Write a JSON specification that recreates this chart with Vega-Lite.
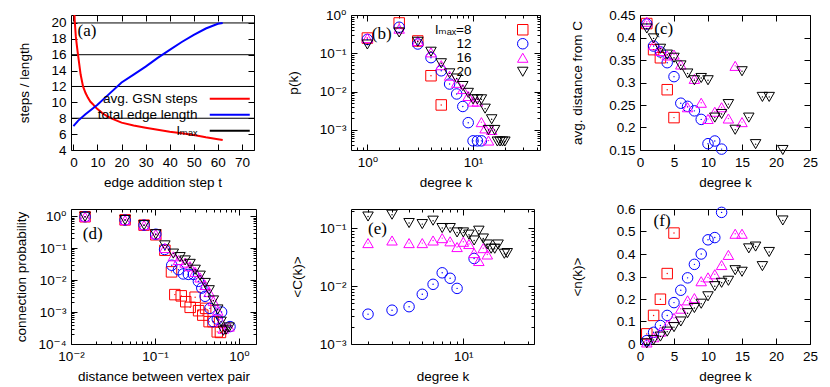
{
  "$schema": "https://vega.github.io/schema/vega-lite/v6.json",
  "background": "white",
  "padding": {"left": 13, "top": 7, "right": 0, "bottom": 0},
  "columns": 3,
  "spacing": {"row": 11, "column": 28},
  "resolve": {"scale": {"color": "independent", "shape": "independent", "fill": "independent", "stroke": "independent"}},
  "config": {
    "view": {"stroke": "black", "strokeWidth": 1},
    "font": "Liberation Sans",
    "axis": {"domain": false, "ticks": false, "grid": true, "gridColor": "black", "gridOpacity": 1, "gridWidth": 1, "tickCount": 100,
      "labelFont": "Liberation Sans, DejaVu Sans", "labelFontSize": 13.5, "labelColor": "black", "labelPadding": 5,
      "labelFlush": false, "labelOverlap": false, "labelBound": false,
      "titleFont": "Liberation Sans", "titleFontSize": 13.5, "titleFontWeight": "normal", "titleColor": "black", "titlePadding": 7},
    "legend": {"labelFont": "Liberation Sans, DejaVu Sans", "labelFontSize": 13.5, "labelColor": "black"},
    "text": {"font": "Liberation Serif", "fontSize": 17, "align": "left", "baseline": "alphabetic", "color": "black"}
  },
  "datasets": {
    "a_curves": [
      {"series":"avg. GSN steps","t":0,"v":26},{"series":"avg. GSN steps","t":0.5,"v":20.5},{"series":"avg. GSN steps","t":1,"v":18.3},{"series":"avg. GSN steps","t":1.5,"v":17},{"series":"avg. GSN steps","t":2,"v":15.8},{"series":"avg. GSN steps","t":3,"v":13.5},{"series":"avg. GSN steps","t":4,"v":12.0},{"series":"avg. GSN steps","t":5,"v":11.2},{"series":"avg. GSN steps","t":6,"v":10.6},{"series":"avg. GSN steps","t":7,"v":10.1},{"series":"avg. GSN steps","t":8,"v":9.8},{"series":"avg. GSN steps","t":9,"v":9.45},{"series":"avg. GSN steps","t":10,"v":9.15},{"series":"avg. GSN steps","t":12,"v":8.65},{"series":"avg. GSN steps","t":14,"v":8.25},{"series":"avg. GSN steps","t":16,"v":7.95},{"series":"avg. GSN steps","t":18,"v":7.7},{"series":"avg. GSN steps","t":20,"v":7.45},{"series":"avg. GSN steps","t":25,"v":7.08},{"series":"avg. GSN steps","t":30,"v":6.8},{"series":"avg. GSN steps","t":35,"v":6.55},{"series":"avg. GSN steps","t":40,"v":6.3},{"series":"avg. GSN steps","t":45,"v":6.1},{"series":"avg. GSN steps","t":50,"v":5.9},{"series":"avg. GSN steps","t":55,"v":5.6},{"series":"avg. GSN steps","t":60,"v":5.35},{"series":"avg. GSN steps","t":62,"v":5.25},
      {"series":"total edge length","t":0,"v":7.0},{"series":"total edge length","t":2,"v":7.7},{"series":"total edge length","t":5,"v":8.5},{"series":"total edge length","t":10,"v":9.7},{"series":"total edge length","t":15,"v":11.1},{"series":"total edge length","t":20,"v":12.5},{"series":"total edge length","t":25,"v":13.5},{"series":"total edge length","t":30,"v":14.5},{"series":"total edge length","t":35,"v":15.6},{"series":"total edge length","t":40,"v":16.6},{"series":"total edge length","t":45,"v":17.6},{"series":"total edge length","t":50,"v":18.5},{"series":"total edge length","t":55,"v":19.3},{"series":"total edge length","t":60,"v":19.9},{"series":"total edge length","t":62,"v":20.0}
    ],
    "a_lmax": [{"series":"lₘₐₓ","v":8},{"series":"lₘₐₓ","v":12},{"series":"lₘₐₓ","v":16},{"series":"lₘₐₓ","v":20}],
    "b": [
      {"l":"8","x":1,"y":0.25},{"l":"8","x":2,"y":0.62},{"l":"8","x":3,"y":0.21},{"l":"8","x":4,"y":0.026},{"l":"8","x":5,"y":0.0045},
      {"l":"12","x":1,"y":0.23},{"l":"12","x":2,"y":0.48},{"l":"12","x":3,"y":0.175},{"l":"12","x":4,"y":0.077},{"l":"12","x":5,"y":0.035},{"l":"12","x":6,"y":0.0158},{"l":"12","x":7,"y":0.0087},{"l":"12","x":8,"y":0.0041},{"l":"12","x":9,"y":0.00155},{"l":"12","x":10,"y":0.00052},{"l":"12","x":11,"y":0.00052},{"l":"12","x":12,"y":0.00052},
      {"l":"16","x":1,"y":0.25},{"l":"16","x":2,"y":0.44},{"l":"16","x":3,"y":0.21},{"l":"16","x":4,"y":0.106},{"l":"16","x":5,"y":0.049},{"l":"16","x":6,"y":0.026},{"l":"16","x":7,"y":0.017},{"l":"16","x":8,"y":0.0117},{"l":"16","x":9,"y":0.0077},{"l":"16","x":10,"y":0.0055},{"l":"16","x":11,"y":0.0055},{"l":"16","x":12,"y":0.0016},{"l":"16","x":13,"y":0.0011},{"l":"16","x":14,"y":0.00053},{"l":"16","x":15,"y":0.001},
      {"l":"20","x":1,"y":0.17},{"l":"20","x":2,"y":0.35},{"l":"20","x":3,"y":0.2},{"l":"20","x":4,"y":0.11},{"l":"20","x":5,"y":0.055},{"l":"20","x":6,"y":0.03},{"l":"20","x":7,"y":0.022},{"l":"20","x":8,"y":0.014},{"l":"20","x":9,"y":0.0093},{"l":"20","x":10,"y":0.0063},{"l":"20","x":11,"y":0.0063},{"l":"20","x":12,"y":0.0063},{"l":"20","x":13,"y":0.0036},{"l":"20","x":14,"y":0.001},{"l":"20","x":15,"y":0.0019},{"l":"20","x":16,"y":0.001},{"l":"20","x":17,"y":0.0005},{"l":"20","x":18,"y":0.0005},{"l":"20","x":19,"y":0.0005},{"l":"20","x":20,"y":0.0005}
    ],
    "c": [
      {"l":"8","x":1,"y":0.431},{"l":"8","x":2,"y":0.373},{"l":"8","x":3,"y":0.355},{"l":"8","x":4,"y":0.284},{"l":"8","x":5,"y":0.222},
      {"l":"12","x":1,"y":0.43},{"l":"12","x":2,"y":0.381},{"l":"12","x":3,"y":0.368},{"l":"12","x":4,"y":0.344},{"l":"12","x":5,"y":0.313},{"l":"12","x":6,"y":0.254},{"l":"12","x":7,"y":0.247},{"l":"12","x":8,"y":0.237},{"l":"12","x":9,"y":0.218},{"l":"12","x":10,"y":0.164},{"l":"12","x":11,"y":0.17},{"l":"12","x":12,"y":0.152},
      {"l":"16","x":1,"y":0.435},{"l":"16","x":2,"y":0.383},{"l":"16","x":3,"y":0.37},{"l":"16","x":4,"y":0.36},{"l":"16","x":5,"y":0.362},{"l":"16","x":6,"y":0.34},{"l":"16","x":7,"y":0.245},{"l":"16","x":8,"y":0.308},{"l":"16","x":9,"y":0.255},{"l":"16","x":10,"y":0.219},{"l":"16","x":11,"y":0.235},{"l":"16","x":12,"y":0.245},{"l":"16","x":13,"y":0.22},{"l":"16","x":14,"y":0.337},{"l":"16","x":15,"y":0.212},
      {"l":"20","x":1,"y":0.42},{"l":"20","x":2,"y":0.398},{"l":"20","x":3,"y":0.375},{"l":"20","x":4,"y":0.362},{"l":"20","x":5,"y":0.355},{"l":"20","x":6,"y":0.338},{"l":"20","x":7,"y":0.32},{"l":"20","x":8,"y":0.305},{"l":"20","x":9,"y":0.31},{"l":"20","x":10,"y":0.305},{"l":"20","x":11,"y":0.222},{"l":"20","x":12,"y":0.23},{"l":"20","x":13,"y":0.252},{"l":"20","x":14,"y":0.195},{"l":"20","x":15,"y":0.325},{"l":"20","x":16,"y":0.222},{"l":"20","x":17,"y":0.163},{"l":"20","x":18,"y":0.268},{"l":"20","x":19,"y":0.268},{"l":"20","x":21,"y":0.15}
    ],
    "d": [
      {"l":"8","x":0.0147,"y":0.95},{"l":"8","x":0.044,"y":0.76},{"l":"8","x":0.074,"y":0.52},{"l":"8","x":0.102,"y":0.26},{"l":"8","x":0.131,"y":0.085},{"l":"8","x":0.157,"y":0.018},{"l":"8","x":0.172,"y":0.0035},{"l":"8","x":0.205,"y":0.0032},{"l":"8","x":0.232,"y":0.0021},{"l":"8","x":0.262,"y":0.0014},{"l":"8","x":0.30,"y":0.0029},{"l":"8","x":0.33,"y":0.0011},{"l":"8","x":0.37,"y":0.0008},{"l":"8","x":0.40,"y":0.0013},{"l":"8","x":0.44,"y":0.0005},{"l":"8","x":0.49,"y":0.0005},{"l":"8","x":0.55,"y":0.00024},{"l":"8","x":0.6,"y":0.00023},
      {"l":"12","x":0.0147,"y":0.95},{"l":"12","x":0.044,"y":0.75},{"l":"12","x":0.074,"y":0.52},{"l":"12","x":0.102,"y":0.27},{"l":"12","x":0.13,"y":0.09},{"l":"12","x":0.158,"y":0.029},{"l":"12","x":0.19,"y":0.021},{"l":"12","x":0.217,"y":0.0155},{"l":"12","x":0.249,"y":0.015},{"l":"12","x":0.286,"y":0.015},{"l":"12","x":0.328,"y":0.0091},{"l":"12","x":0.36,"y":0.0056},{"l":"12","x":0.394,"y":0.0031},{"l":"12","x":0.45,"y":0.0013},{"l":"12","x":0.494,"y":0.0005},{"l":"12","x":0.55,"y":0.0006},{"l":"12","x":0.62,"y":0.001},{"l":"12","x":0.78,"y":0.00035},
      {"l":"16","x":0.0147,"y":0.95},{"l":"16","x":0.044,"y":0.75},{"l":"16","x":0.074,"y":0.52},{"l":"16","x":0.102,"y":0.27},{"l":"16","x":0.131,"y":0.1},{"l":"16","x":0.165,"y":0.055},{"l":"16","x":0.19,"y":0.042},{"l":"16","x":0.228,"y":0.035},{"l":"16","x":0.261,"y":0.027},{"l":"16","x":0.3,"y":0.018},{"l":"16","x":0.344,"y":0.012},{"l":"16","x":0.394,"y":0.007},{"l":"16","x":0.44,"y":0.0042},{"l":"16","x":0.494,"y":0.0022},{"l":"16","x":0.557,"y":0.0011},{"l":"16","x":0.61,"y":0.0005},{"l":"16","x":0.65,"y":0.0003},{"l":"16","x":0.76,"y":0.00035},
      {"l":"20","x":0.0147,"y":0.95},{"l":"20","x":0.044,"y":0.75},{"l":"20","x":0.074,"y":0.52},{"l":"20","x":0.102,"y":0.27},{"l":"20","x":0.131,"y":0.121},{"l":"20","x":0.165,"y":0.067},{"l":"20","x":0.198,"y":0.052},{"l":"20","x":0.228,"y":0.041},{"l":"20","x":0.261,"y":0.032},{"l":"20","x":0.30,"y":0.021},{"l":"20","x":0.344,"y":0.0137},{"l":"20","x":0.394,"y":0.0081},{"l":"20","x":0.44,"y":0.0048},{"l":"20","x":0.494,"y":0.0023},{"l":"20","x":0.557,"y":0.0012},{"l":"20","x":0.61,"y":0.0005},{"l":"20","x":0.65,"y":0.00026},{"l":"20","x":0.70,"y":0.00028},{"l":"20","x":0.76,"y":0.00033}
    ],
    "e": [
      {"l":"12","x":2,"y":0.00327},{"l":"12","x":3,"y":0.00383},{"l":"12","x":4,"y":0.0044},{"l":"12","x":5,"y":0.0072},{"l":"12","x":6,"y":0.0107},{"l":"12","x":7,"y":0.0169},{"l":"12","x":8,"y":0.0136},{"l":"12","x":9,"y":0.0091},{"l":"12","x":12,"y":0.0298},
      {"l":"16","x":2,"y":0.055},{"l":"16","x":3,"y":0.061},{"l":"16","x":4,"y":0.055},{"l":"16","x":5,"y":0.055},{"l":"16","x":6,"y":0.061},{"l":"16","x":7,"y":0.067},{"l":"16","x":8,"y":0.059},{"l":"16","x":9,"y":0.047},{"l":"16","x":10,"y":0.058},{"l":"16","x":11,"y":0.053},{"l":"16","x":12,"y":0.037},{"l":"16","x":13,"y":0.027},{"l":"16","x":14,"y":0.045},{"l":"16","x":15,"y":0.035},
      {"l":"20","x":2,"y":0.158},{"l":"20","x":3,"y":0.17},{"l":"20","x":4,"y":0.122},{"l":"20","x":5,"y":0.117},{"l":"20","x":6,"y":0.134},{"l":"20","x":7,"y":0.1},{"l":"20","x":8,"y":0.1},{"l":"20","x":9,"y":0.084},{"l":"20","x":10,"y":0.084},{"l":"20","x":11,"y":0.077},{"l":"20","x":12,"y":0.061},{"l":"20","x":13,"y":0.09},{"l":"20","x":14,"y":0.066},{"l":"20","x":15,"y":0.052},{"l":"20","x":16,"y":0.044},{"l":"20","x":17,"y":0.044},{"l":"20","x":18,"y":0.052},{"l":"20","x":20,"y":0.036},{"l":"20","x":21,"y":0.037}
    ],
    "f": [
      {"l":"8","x":1,"y":0.045},{"l":"8","x":2,"y":0.127},{"l":"8","x":3,"y":0.199},{"l":"8","x":4,"y":0.313},{"l":"8","x":5,"y":0.493},
      {"l":"12","x":1,"y":0.015},{"l":"12","x":2,"y":0.052},{"l":"12","x":3,"y":0.082},{"l":"12","x":4,"y":0.127},{"l":"12","x":5,"y":0.184},{"l":"12","x":6,"y":0.239},{"l":"12","x":7,"y":0.294},{"l":"12","x":8,"y":0.354},{"l":"12","x":9,"y":0.4},{"l":"12","x":10,"y":0.463},{"l":"12","x":11,"y":0.473},{"l":"12","x":12,"y":0.585},
      {"l":"16","x":1,"y":0.007},{"l":"16","x":2,"y":0.03},{"l":"16","x":3,"y":0.055},{"l":"16","x":4,"y":0.085},{"l":"16","x":5,"y":0.116},{"l":"16","x":6,"y":0.157},{"l":"16","x":7,"y":0.194},{"l":"16","x":8,"y":0.204},{"l":"16","x":9,"y":0.279},{"l":"16","x":10,"y":0.296},{"l":"16","x":11,"y":0.31},{"l":"16","x":12,"y":0.351},{"l":"16","x":13,"y":0.396},{"l":"16","x":14,"y":0.49},{"l":"16","x":15,"y":0.49},
      {"l":"20","x":1,"y":0.003},{"l":"20","x":2,"y":0.018},{"l":"20","x":3,"y":0.033},{"l":"20","x":4,"y":0.055},{"l":"20","x":5,"y":0.075},{"l":"20","x":6,"y":0.1},{"l":"20","x":7,"y":0.137},{"l":"20","x":8,"y":0.16},{"l":"20","x":9,"y":0.179},{"l":"20","x":10,"y":0.212},{"l":"20","x":11,"y":0.257},{"l":"20","x":12,"y":0.272},{"l":"20","x":13,"y":0.281},{"l":"20","x":14,"y":0.328},{"l":"20","x":15,"y":0.321},{"l":"20","x":16,"y":0.425},{"l":"20","x":17,"y":0.433},{"l":"20","x":18,"y":0.346},{"l":"20","x":19,"y":0.409},{"l":"20","x":21,"y":0.549}
    ]
  },
  "concat": [
    {
      "width": 183, "height": 135,
      "layer": [
        {"data": {"name": "a_lmax"}, "mark": {"type": "rule", "strokeWidth": 1},
         "encoding": {
           "y": {"field": "v", "type": "quantitative", "scale": {"domain": [4, 21], "nice": false, "zero": false}},
           "color": {"field": "series", "type": "nominal",
             "scale": {"domain": ["avg. GSN steps", "total edge length", "lₘₐₓ"], "range": ["#ff0000", "#0000ff", "#000000"]},
             "legend": {"orient": "none", "legendX": 152, "legendY": 77, "title": null, "symbolType": "M-4,0H4", "symbolSize": 100, "symbolStrokeWidth": 2, "labelAlign": "right", "labelOffset": -39, "rowPadding": 1, "padding": 0, "labelLimit": 0}}
         }},
        {"data": {"name": "a_curves"}, "mark": {"type": "line", "strokeWidth": 2, "clip": true},
         "encoding": {
           "x": {"field": "t", "type": "quantitative", "scale": {"domain": [-1, 75], "nice": false, "zero": false},
             "axis": {"title": "edge addition step t", "values": [0, 10, 20, 30, 40, 50, 60, 70], "tickCount": 100, "grid": true, "gridDash": [6, 123, 6, 1000], "labelExpr": "'' + datum.value", "labelOverlap": false}},
           "y": {"field": "v", "type": "quantitative",
             "axis": {"title": "steps / length", "values": [4, 6, 8, 10, 12, 14, 16, 18, 20], "tickCount": 100, "grid": true, "gridDash": [6, 171, 6, 1000], "labelExpr": "'' + datum.value", "labelOverlap": false, "titlePadding": 19}},
           "color": {"field": "series", "type": "nominal"}
         }},
        {"data": {"values": [{}]}, "mark": {"type": "text"},
         "encoding": {"x": {"datum": 1.7}, "y": {"datum": 18.3}, "text": {"value": "(a)"}}}
      ]
    },
    {
      "width": 189, "height": 135,
      "data": {"name": "b"},
      "resolve": {"axis": {"x": "independent", "y": "independent"}},
      "layer": [
        {"mark": {"type": "point", "filled": false, "size": 110, "strokeWidth": 1, "opacity": 1},
         "encoding": {
           "x": {"field": "x", "type": "quantitative", "scale": {"type": "log", "domain": [0.7, 43], "nice": false},
             "axis": {"orient": "bottom", "title": "degree k", "values": [1, 10], "tickCount": 100, "labelExpr": "['10⁻⁴','10⁻³','10⁻²','10⁻¹','10⁰','10¹'][round(log(datum.value)/LN10)+4]", "grid": true, "gridDash": [6, 123, 6, 1000], "labelOverlap": false}},
           "y": {"field": "y", "type": "quantitative", "scale": {"type": "log", "domain": [0.0003, 1], "nice": false},
             "axis": {"orient": "left", "title": "p(k)", "values": [0.001, 0.01, 0.1, 1], "tickCount": 100, "labelExpr": "['10⁻⁴','10⁻³','10⁻²','10⁻¹','10⁰','10¹'][round(log(datum.value)/LN10)+4]", "grid": true, "gridDash": [6, 177, 6, 1000], "labelOverlap": false, "titlePadding": 19}},
           "stroke": {"field": "l", "type": "nominal", "scale": {"domain": ["8", "12", "16", "20"], "range": ["#ff0000", "#0000ff", "#ff00ff", "#000000"]},
             "legend": {"orient": "none", "legendX": 165, "legendY": 8, "title": null, "labelAlign": "right", "labelOffset": -58, "labelExpr": "datum.label == '8' ? 'lₘₐₓ=8' : datum.label", "rowPadding": -2, "padding": 0, "symbolSize": 110, "symbolStrokeWidth": 1, "symbolFillColor": "transparent", "labelLimit": 0}},
           "shape": {"field": "l", "type": "nominal", "scale": {"domain": ["8", "12", "16", "20"], "range": ["square", "circle", "triangle-up", "triangle-down"]},
             "legend": {"orient": "none", "legendX": 165, "legendY": 8, "title": null, "labelAlign": "right", "labelOffset": -58, "labelExpr": "datum.label == '8' ? 'lₘₐₓ=8' : datum.label", "rowPadding": -2, "padding": 0, "symbolSize": 110, "symbolStrokeWidth": 1, "symbolFillColor": "transparent", "labelLimit": 0}}
         }},
        {"mark": {"type": "point", "filled": true, "size": 2, "opacity": 1},
         "encoding": {
           "x": {"field": "x", "type": "quantitative", "axis": null},
           "y": {"field": "y", "type": "quantitative", "axis": null},
           "fill": {"field": "l", "type": "nominal", "scale": {"range": ["#0000ff", "#ff00ff", "#000000", "#ff0000"]}, "legend": null}
         }},
        {"mark": {"type": "point", "opacity": 0},
         "encoding": {
           "x": {"field": "x", "type": "quantitative", "axis": {"orient": "top", "title": null, "labels": false, "tickCount": 100, "values": [0.8, 0.9, 2, 3, 4, 5, 6, 7, 8, 9, 20, 30, 40], "grid": true, "gridDash": [3, 129, 3, 1000]}},
           "y": {"field": "y", "type": "quantitative", "axis": {"orient": "right", "title": null, "labels": false, "tickCount": 100, "values": [0.0004, 0.0005, 0.0006, 0.0007, 0.0008, 0.0009, 0.002, 0.003, 0.004, 0.005, 0.006, 0.007, 0.008, 0.009, 0.02, 0.03, 0.04, 0.05, 0.06, 0.07, 0.08, 0.09, 0.2, 0.3, 0.4, 0.5, 0.6, 0.7, 0.8, 0.9], "grid": true, "gridDash": [3, 183, 3, 1000]}}
         }},
        {"data": {"values": [{}]}, "mark": {"type": "text"},
         "encoding": {"x": {"datum": 1.1, "axis": null}, "y": {"datum": 0.24, "axis": null}, "text": {"value": "(b)"}}}
      ]
    },
    {
      "width": 170, "height": 135,
      "data": {"name": "c"},
      "layer": [
        {"mark": {"type": "point", "filled": false, "size": 110, "strokeWidth": 1, "opacity": 1},
         "encoding": {
           "x": {"field": "x", "type": "quantitative", "scale": {"domain": [0, 25], "nice": false},
             "axis": {"title": "degree k", "values": [0, 5, 10, 15, 20, 25], "tickCount": 100, "grid": true, "gridDash": [6, 123, 6, 1000], "labelExpr": "'' + datum.value", "labelOverlap": false}},
           "y": {"field": "y", "type": "quantitative", "scale": {"domain": [0.15, 0.45], "nice": false, "zero": false},
             "axis": {"title": "avg. distance from C", "values": [0.15, 0.2, 0.25, 0.3, 0.35, 0.4, 0.45], "tickCount": 100, "grid": true, "gridDash": [6, 158, 6, 1000], "labelExpr": "'' + datum.value", "labelOverlap": false, "titlePadding": 24}},
           "color": {"field": "l", "type": "nominal", "scale": {"domain": ["8", "12", "16", "20"], "range": ["#ff0000", "#0000ff", "#ff00ff", "#000000"]}, "legend": null},
           "shape": {"field": "l", "type": "nominal", "scale": {"domain": ["8", "12", "16", "20"], "range": ["square", "circle", "triangle-up", "triangle-down"]}, "legend": null}
         }},
        {"mark": {"type": "point", "filled": true, "size": 2, "opacity": 1},
         "encoding": {
           "x": {"field": "x", "type": "quantitative"},
           "y": {"field": "y", "type": "quantitative"},
           "fill": {"field": "l", "type": "nominal", "scale": {"domain": ["8", "12", "16", "20"], "range": ["#ff0000", "#0000ff", "#ff00ff", "#000000"]}, "legend": null}
         }},
        {"data": {"values": [{}]}, "mark": {"type": "text"},
         "encoding": {"x": {"datum": 2.1}, "y": {"datum": 0.407}, "text": {"value": "(c)"}}}
      ]
    },
    {
      "width": 185, "height": 135,
      "data": {"name": "d"},
      "resolve": {"axis": {"x": "independent", "y": "independent"}},
      "layer": [
        {"mark": {"type": "point", "filled": false, "size": 110, "strokeWidth": 1, "opacity": 1},
         "encoding": {
           "x": {"field": "x", "type": "quantitative", "scale": {"type": "log", "domain": [0.01, 1.59], "nice": false},
             "axis": {"orient": "bottom", "title": "distance between vertex pair", "values": [0.01, 0.1, 1], "tickCount": 100, "labelExpr": "['10⁻⁴','10⁻³','10⁻²','10⁻¹','10⁰','10¹'][round(log(datum.value)/LN10)+4]", "grid": true, "gridDash": [6, 123, 6, 1000], "labelOverlap": false}},
           "y": {"field": "y", "type": "quantitative", "scale": {"type": "log", "domain": [0.0001, 1.66], "nice": false},
             "axis": {"orient": "left", "title": "connection probability", "values": [0.0001, 0.001, 0.01, 0.1, 1], "tickCount": 100, "labelExpr": "['10⁻⁴','10⁻³','10⁻²','10⁻¹','10⁰','10¹'][round(log(datum.value)/LN10)+4]", "grid": true, "gridDash": [6, 173, 6, 1000], "labelOverlap": false, "titlePadding": 10}},
           "color": {"field": "l", "type": "nominal", "scale": {"domain": ["8", "12", "16", "20"], "range": ["#ff0000", "#0000ff", "#ff00ff", "#000000"]}, "legend": null},
           "shape": {"field": "l", "type": "nominal", "scale": {"domain": ["8", "12", "16", "20"], "range": ["square", "circle", "triangle-up", "triangle-down"]}, "legend": null}
         }},
        {"mark": {"type": "point", "filled": true, "size": 2, "opacity": 1},
         "encoding": {
           "x": {"field": "x", "type": "quantitative", "axis": null},
           "y": {"field": "y", "type": "quantitative", "axis": null},
           "fill": {"field": "l", "type": "nominal", "scale": {"domain": ["8", "12", "16", "20"], "range": ["#ff0000", "#0000ff", "#ff00ff", "#000000"]}, "legend": null}
         }},
        {"mark": {"type": "point", "opacity": 0},
         "encoding": {
           "x": {"field": "x", "type": "quantitative", "axis": {"orient": "top", "title": null, "labels": false, "tickCount": 100, "values": [0.02, 0.03, 0.04, 0.05, 0.06, 0.07, 0.08, 0.09, 0.2, 0.3, 0.4, 0.5, 0.6, 0.7, 0.8, 0.9], "grid": true, "gridDash": [3, 129, 3, 1000]}},
           "y": {"field": "y", "type": "quantitative", "axis": {"orient": "right", "title": null, "labels": false, "tickCount": 100, "values": [0.0002, 0.0003, 0.0004, 0.0005, 0.0006, 0.0007, 0.0008, 0.0009, 0.002, 0.003, 0.004, 0.005, 0.006, 0.007, 0.008, 0.009, 0.02, 0.03, 0.04, 0.05, 0.06, 0.07, 0.08, 0.09, 0.2, 0.3, 0.4, 0.5, 0.6, 0.7, 0.8, 0.9], "grid": true, "gridDash": [3, 179, 3, 1000]}}
         }},
        {"data": {"values": [{}]}, "mark": {"type": "text"},
         "encoding": {"x": {"datum": 0.0138, "axis": null}, "y": {"datum": 0.187, "axis": null}, "text": {"value": "(d)"}}}
      ]
    },
    {
      "width": 183, "height": 135,
      "data": {"name": "e"},
      "resolve": {"axis": {"x": "independent", "y": "independent"}},
      "layer": [
        {"mark": {"type": "point", "filled": false, "size": 110, "strokeWidth": 1, "opacity": 1},
         "encoding": {
           "x": {"field": "x", "type": "quantitative", "scale": {"type": "log", "domain": [1.5, 33], "nice": false},
             "axis": {"orient": "bottom", "title": "degree k", "values": [10], "tickCount": 100, "labelExpr": "['10⁻⁴','10⁻³','10⁻²','10⁻¹','10⁰','10¹'][round(log(datum.value)/LN10)+4]", "grid": true, "gridDash": [6, 123, 6, 1000], "labelOverlap": false}},
           "y": {"field": "y", "type": "quantitative", "scale": {"type": "log", "domain": [0.001, 0.213], "nice": false},
             "axis": {"orient": "left", "title": "<C(k)>", "values": [0.001, 0.01, 0.1], "tickCount": 100, "labelExpr": "['10⁻⁴','10⁻³','10⁻²','10⁻¹','10⁰','10¹'][round(log(datum.value)/LN10)+4]", "grid": true, "gridDash": [6, 171, 6, 1000], "labelOverlap": false, "titlePadding": 15}},
           "color": {"field": "l", "type": "nominal", "scale": {"domain": ["8", "12", "16", "20"], "range": ["#ff0000", "#0000ff", "#ff00ff", "#000000"]}, "legend": null},
           "shape": {"field": "l", "type": "nominal", "scale": {"domain": ["8", "12", "16", "20"], "range": ["square", "circle", "triangle-up", "triangle-down"]}, "legend": null}
         }},
        {"mark": {"type": "point", "filled": true, "size": 2, "opacity": 1},
         "encoding": {
           "x": {"field": "x", "type": "quantitative", "axis": null},
           "y": {"field": "y", "type": "quantitative", "axis": null},
           "fill": {"field": "l", "type": "nominal", "scale": {"domain": ["8", "12", "16", "20"], "range": ["#ff0000", "#0000ff", "#ff00ff", "#000000"]}, "legend": null}
         }},
        {"mark": {"type": "point", "opacity": 0},
         "encoding": {
           "x": {"field": "x", "type": "quantitative", "axis": {"orient": "top", "title": null, "labels": false, "tickCount": 100, "values": [2, 3, 4, 5, 6, 7, 8, 9, 20, 30], "grid": true, "gridDash": [3, 129, 3, 1000]}},
           "y": {"field": "y", "type": "quantitative", "axis": {"orient": "right", "title": null, "labels": false, "tickCount": 100, "values": [0.002, 0.003, 0.004, 0.005, 0.006, 0.007, 0.008, 0.009, 0.02, 0.03, 0.04, 0.05, 0.06, 0.07, 0.08, 0.09, 0.2], "grid": true, "gridDash": [3, 177, 3, 1000]}}
         }},
        {"data": {"values": [{}]}, "mark": {"type": "text"},
         "encoding": {"x": {"datum": 2.0, "axis": null}, "y": {"datum": 0.078, "axis": null}, "text": {"value": "(e)"}}}
      ]
    },
    {
      "width": 170, "height": 135,
      "data": {"name": "f"},
      "layer": [
        {"mark": {"type": "point", "filled": false, "size": 110, "strokeWidth": 1, "opacity": 1},
         "encoding": {
           "x": {"field": "x", "type": "quantitative", "scale": {"domain": [0, 25], "nice": false},
             "axis": {"title": "degree k", "values": [0, 5, 10, 15, 20, 25], "tickCount": 100, "grid": true, "gridDash": [6, 123, 6, 1000], "labelExpr": "'' + datum.value", "labelOverlap": false}},
           "y": {"field": "y", "type": "quantitative", "scale": {"domain": [0, 0.6], "nice": false},
             "axis": {"title": "<n(k)>", "values": [0, 0.1, 0.2, 0.3, 0.4, 0.5, 0.6], "tickCount": 100, "grid": true, "gridDash": [6, 158, 6, 1000], "labelExpr": "'' + datum.value", "labelOverlap": false, "titlePadding": 32}},
           "color": {"field": "l", "type": "nominal", "scale": {"domain": ["8", "12", "16", "20"], "range": ["#ff0000", "#0000ff", "#ff00ff", "#000000"]}, "legend": null},
           "shape": {"field": "l", "type": "nominal", "scale": {"domain": ["8", "12", "16", "20"], "range": ["square", "circle", "triangle-up", "triangle-down"]}, "legend": null}
         }},
        {"mark": {"type": "point", "filled": true, "size": 2, "opacity": 1},
         "encoding": {
           "x": {"field": "x", "type": "quantitative"},
           "y": {"field": "y", "type": "quantitative"},
           "fill": {"field": "l", "type": "nominal", "scale": {"domain": ["8", "12", "16", "20"], "range": ["#ff0000", "#0000ff", "#ff00ff", "#000000"]}, "legend": null}
         }},
        {"data": {"values": [{}]}, "mark": {"type": "text"},
         "encoding": {"x": {"datum": 2.0}, "y": {"datum": 0.525}, "text": {"value": "(f)"}}}
      ]
    }
  ]
}
